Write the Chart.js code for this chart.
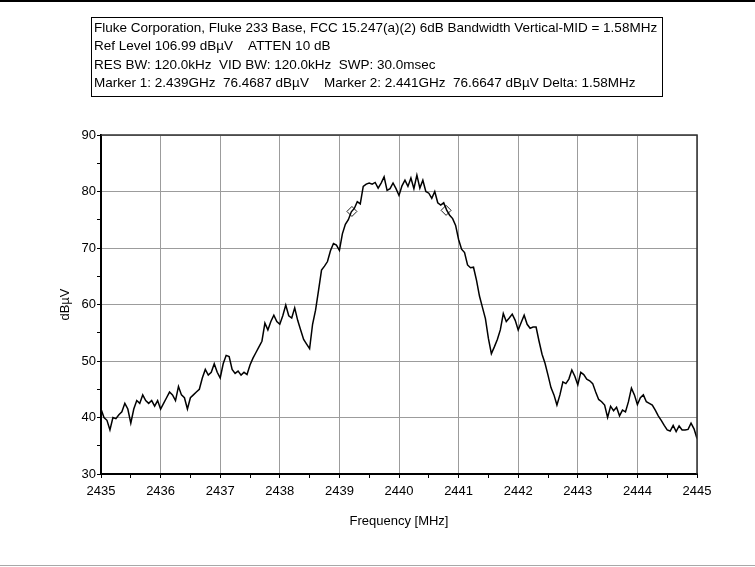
<!DOCTYPE html>
<html>
<head>
<meta charset="utf-8">
<title>Fluke 233 Base - 6dB Bandwidth</title>
<script src="https://cdn.jsdelivr.net/npm/chart.js@4.4.1/dist/chart.umd.min.js"></script>
<style>
  html, body { margin: 0; padding: 0; background: #fff; }
  #wrap { position: relative; width: 755px; height: 567px; }
  canvas { display: block; }
</style>
</head>
<body>
<div id="wrap"><canvas id="spectrum" width="755" height="567"></canvas></div>
<script>
// Sweep grid: 2435 .. 2445 MHz, one reading every 0.05 MHz
const sweepStartMHz = 2435;
const sweepStepMHz = 0.05;

// Measured level in dBuV, one row per MHz (20 readings each), plus the final point
const levels = [
  41.5, 40.0, 39.5, 37.8, 40.0, 39.8, 40.5, 41.0, 42.5, 41.5, 39.0, 41.5, 43.0, 42.5, 44.0, 43.0, 42.5, 43.0, 42.0, 43.0,
  41.5, 42.5, 43.5, 44.5, 44.0, 43.0, 45.5, 44.0, 43.5, 41.5, 43.5, 44.0, 44.5, 45.0, 47.0, 48.5, 47.5, 48.0, 49.5, 48.0,
  47.0, 49.5, 51.0, 50.8, 48.5, 47.8, 48.2, 47.5, 48.0, 47.6, 49.3, 50.5, 51.5, 52.5, 53.5, 56.7, 55.5, 57.0, 58.1, 57.0,
  56.5, 58.0, 59.9, 58.0, 57.6, 59.4, 57.2, 55.5, 53.8, 53.0, 52.2, 56.5, 59.0, 62.5, 66.1, 66.8, 67.6, 69.5, 70.8, 70.5,
  69.6, 72.5, 74.2, 75.0, 76.4, 77.0, 78.2, 77.8, 80.9, 81.3, 81.5, 81.3, 81.6, 80.6, 81.5, 82.6, 80.2, 80.5, 81.5, 80.5,
  79.3, 81.0, 82.0, 80.9, 82.4, 80.5, 82.9, 80.6, 82.0, 80.0, 79.7, 78.8, 80.0, 78.0, 77.6, 78.0, 76.7, 75.8, 75.2, 74.0,
  71.5, 69.8, 69.2, 67.0, 66.5, 66.6, 64.3, 61.5, 59.5, 57.5, 54.0, 51.3, 52.5, 53.8, 55.5, 58.4, 57.0, 57.6, 58.3, 57.2,
  55.5, 56.8, 58.1, 56.5, 55.8, 56.0, 56.0, 53.5, 51.2, 49.6, 47.5, 45.3, 44.0, 42.2, 44.0, 46.3, 46.0, 46.8, 48.4, 47.3,
  45.8, 48.0, 47.6, 46.8, 46.5, 46.0, 44.5, 43.2, 42.8, 42.2, 40.0, 42.0, 41.2, 41.8, 40.3, 41.3, 41.0, 42.8, 45.2, 44.0,
  42.3, 43.5, 44.0, 42.8, 42.5, 42.2, 41.3, 40.3, 39.5, 38.6, 37.8, 37.6, 38.6, 37.5, 38.5, 37.8, 37.8, 37.9, 39.0, 38.0,
  36.3
];

// 6 dB bandwidth markers
const markerFreqsMHz = [2439.21, 2440.79];
const markerLevels = [76.4687, 76.6647];

// Axis ranges and tick spacing
const freqMin = 2435, freqMax = 2445, freqMinorStep = 0.5;
const levelMin = 30, levelMax = 90, levelMinorStep = 5;

// Instrument settings printed above the plot
const headerLines = [
  'Fluke Corporation, Fluke 233 Base, FCC 15.247(a)(2) 6dB Bandwidth Vertical-MID = 1.58MHz',
  'Ref Level 106.99 dB\u00B5V    ATTEN 10 dB',
  'RES BW: 120.0kHz  VID BW: 120.0kHz  SWP: 30.0msec',
  'Marker 1: 2.439GHz  76.4687 dB\u00B5V    Marker 2: 2.441GHz  76.6647 dB\u00B5V Delta: 1.58MHz'
];

const FONT = '"Liberation Sans", Arial, sans-serif';

const tracePoints = levels.map((v, i) => ({ x: sweepStartMHz + i * sweepStepMHz, y: v }));
const markerPoints = markerFreqsMHz.map((f, i) => ({ x: f, y: markerLevels[i] }));

const isMajor = (v, step) => Math.abs(v / step - Math.round(v / step)) < 1e-6;

// Page frame, settings box and the closing top/right edges of the plot
const framePlugin = {
  id: 'framePlugin',
  beforeDraw(chart) {
    const ctx = chart.ctx;
    ctx.save();
    ctx.fillStyle = '#fff';
    ctx.fillRect(0, 0, chart.width, chart.height);

    ctx.fillStyle = '#000';
    ctx.fillRect(0, 0, chart.width, 2);
    ctx.fillStyle = '#a8a8a8';
    ctx.fillRect(0, chart.height - 2, chart.width, 1);

    // settings box
    ctx.strokeStyle = '#000';
    ctx.lineWidth = 1;
    ctx.strokeRect(91.5, 17.5, 571, 79);
    ctx.fillStyle = '#000';
    ctx.font = '13.5px ' + FONT;
    ctx.textBaseline = 'middle';
    ctx.textAlign = 'left';
    headerLines.forEach((t, i) => ctx.fillText(t, 94, 28 + i * 18.4));
    ctx.restore();
  },
  afterDraw(chart) {
    const { ctx, chartArea: a } = chart;
    ctx.save();
    ctx.strokeStyle = '#303030';
    ctx.lineWidth = 1.5;
    ctx.beginPath();
    ctx.moveTo(a.left, a.top);
    ctx.lineTo(a.right, a.top);
    ctx.lineTo(a.right, a.bottom);
    ctx.stroke();
    ctx.restore();
  }
};

new Chart(document.getElementById('spectrum'), {
  type: 'line',
  data: {
    datasets: [
      {
        label: 'Level',
        data: tracePoints,
        borderColor: '#000',
        borderWidth: 1.5,
        pointRadius: 0,
        tension: 0,
        fill: false
      },
      {
        label: 'Markers',
        data: markerPoints,
        showLine: false,
        pointStyle: 'rectRot',
        pointRadius: 5,
        pointBorderWidth: 1,
        pointBorderColor: '#222',
        pointBackgroundColor: 'rgba(0,0,0,0)'
      }
    ]
  },
  options: {
    responsive: false,
    animation: false,
    devicePixelRatio: 1,
    layout: { padding: { left: 0, right: 58, top: 135, bottom: 0 } },
    plugins: { legend: { display: false }, tooltip: { enabled: false } },
    scales: {
      x: {
        type: 'linear',
        min: freqMin,
        max: freqMax,
        afterFit: s => { s.height = 93; },
        ticks: {
          stepSize: freqMinorStep,
          autoSkip: false,
          maxRotation: 0,
          padding: 6,
          color: '#000',
          font: { family: FONT, size: 13 },
          callback: v => isMajor(v, 1) ? String(Math.round(v)) : ''
        },
        grid: {
          color: c => (c.tick && isMajor(c.tick.value, 1)) ? '#9c9c9c' : 'rgba(0,0,0,0)',
          lineWidth: 1,
          tickColor: '#000',
          tickLength: 4
        },
        border: { color: '#000', width: 2 },
        title: {
          display: true,
          text: 'Frequency [MHz]',
          color: '#000',
          font: { family: FONT, size: 13 },
          padding: { top: 0, bottom: 38 }
        }
      },
      y: {
        min: levelMin,
        max: levelMax,
        afterFit: s => { s.width = 101; },
        ticks: {
          stepSize: levelMinorStep,
          autoSkip: false,
          padding: 1,
          color: '#000',
          font: { family: FONT, size: 13 },
          callback: v => isMajor(v, 10) ? String(Math.round(v)) : ''
        },
        grid: {
          color: c => (c.tick && isMajor(c.tick.value, 10)) ? '#9c9c9c' : 'rgba(0,0,0,0)',
          lineWidth: 1,
          tickColor: '#000',
          tickLength: 4
        },
        border: { color: '#000', width: 2 },
        title: {
          display: true,
          text: 'dB\u00B5V',
          color: '#000',
          font: { family: FONT, size: 13 },
          padding: { top: 58, bottom: 0 }
        }
      }
    }
  },
  plugins: [framePlugin]
});
</script>
</body>
</html>
